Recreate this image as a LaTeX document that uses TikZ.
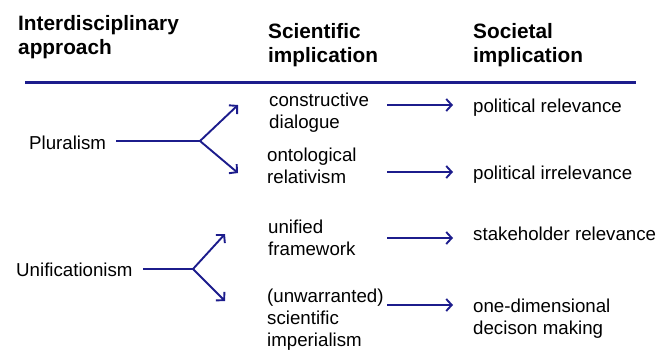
\documentclass[tikz,border=0pt]{standalone}
\usepackage{fontspec}
\setmainfont{Liberation Sans}
\usetikzlibrary{arrows.meta}
\definecolor{navy}{RGB}{28,28,140}
\tikzset{
  hdr/.style={font=\bfseries\fontsize{20.8}{23.5}\selectfont, align=left, anchor=west, inner sep=0pt},
  txt/.style={font=\fontsize{18.7}{22}\selectfont, align=left, anchor=west, inner sep=0pt},
  conn/.style={draw=navy, line width=1.9pt},
  arr/.style={conn, -{Straight Barb[length=5.5pt,width=12pt,line width=1.9pt]}},
}
\begin{document}
\begin{tikzpicture}[x=1pt,y=-1pt]
\useasboundingbox (0,0) rectangle (672,359);
% headers
\node[hdr] (h1) at (18,37) {Interdisciplinary\\approach};
\node[hdr] (h2) at (268,45) {Scientific\\implication};
\node[hdr] (h3) at (473,45) {Societal\\implication};
\coordinate (ruleL) at (25,82);
\coordinate (ruleR) at (636,82);
\draw[navy, line width=3pt] (ruleL) -- (ruleR);
% left column
\node[txt] (plur) at (29,143) {Pluralism};
\node[txt] (unif) at (16,270) {Unificationism};
% middle column
\node[txt] (cd) at (269,113) {constructive\\dialogue};
\node[txt] (or) at (267,165.5) {ontological\\relativism};
\node[txt] (uf) at (268,237.5) {unified\\framework};
\node[txt] (si) at (267,319.5) {(unwarranted)\\scientific\\imperialism};
% right column
\node[txt] (pr) at (473,107.5) {political relevance};
\node[txt] (pi) at (473,174.5) {political irrelevance};
\node[txt] (sr) at (473,233.5) {stakeholder relevance};
\node[txt] (od) at (473,318.5) {one-dimensional\\decison making};
% forks
\coordinate (pstart) at (116,141);
\coordinate (pfork) at (200,141);
\coordinate (pup) at (238,105);
\coordinate (pdn) at (238,173);
\coordinate (ustart) at (143,269);
\coordinate (ufork) at (193,269);
\coordinate (uup) at (225,234);
\coordinate (udn) at (225,301);
\draw[conn] (pstart) -- (pfork);
\draw[arr] (pfork) -- (pup);
\draw[arr] (pfork) -- (pdn);
\draw[conn] (ustart) -- (ufork);
\draw[arr] (ufork) -- (uup);
\draw[arr] (ufork) -- (udn);
% right arrows
\coordinate (a1s) at (387,105); \coordinate (a1e) at (453,105);
\coordinate (a2s) at (387,172); \coordinate (a2e) at (453,172);
\coordinate (a3s) at (387,238); \coordinate (a3e) at (453,238);
\coordinate (a4s) at (387,305); \coordinate (a4e) at (453,305);
\draw[arr] (a1s) -- (a1e);
\draw[arr] (a2s) -- (a2e);
\draw[arr] (a3s) -- (a3e);
\draw[arr] (a4s) -- (a4e);
\end{tikzpicture}
\end{document}
